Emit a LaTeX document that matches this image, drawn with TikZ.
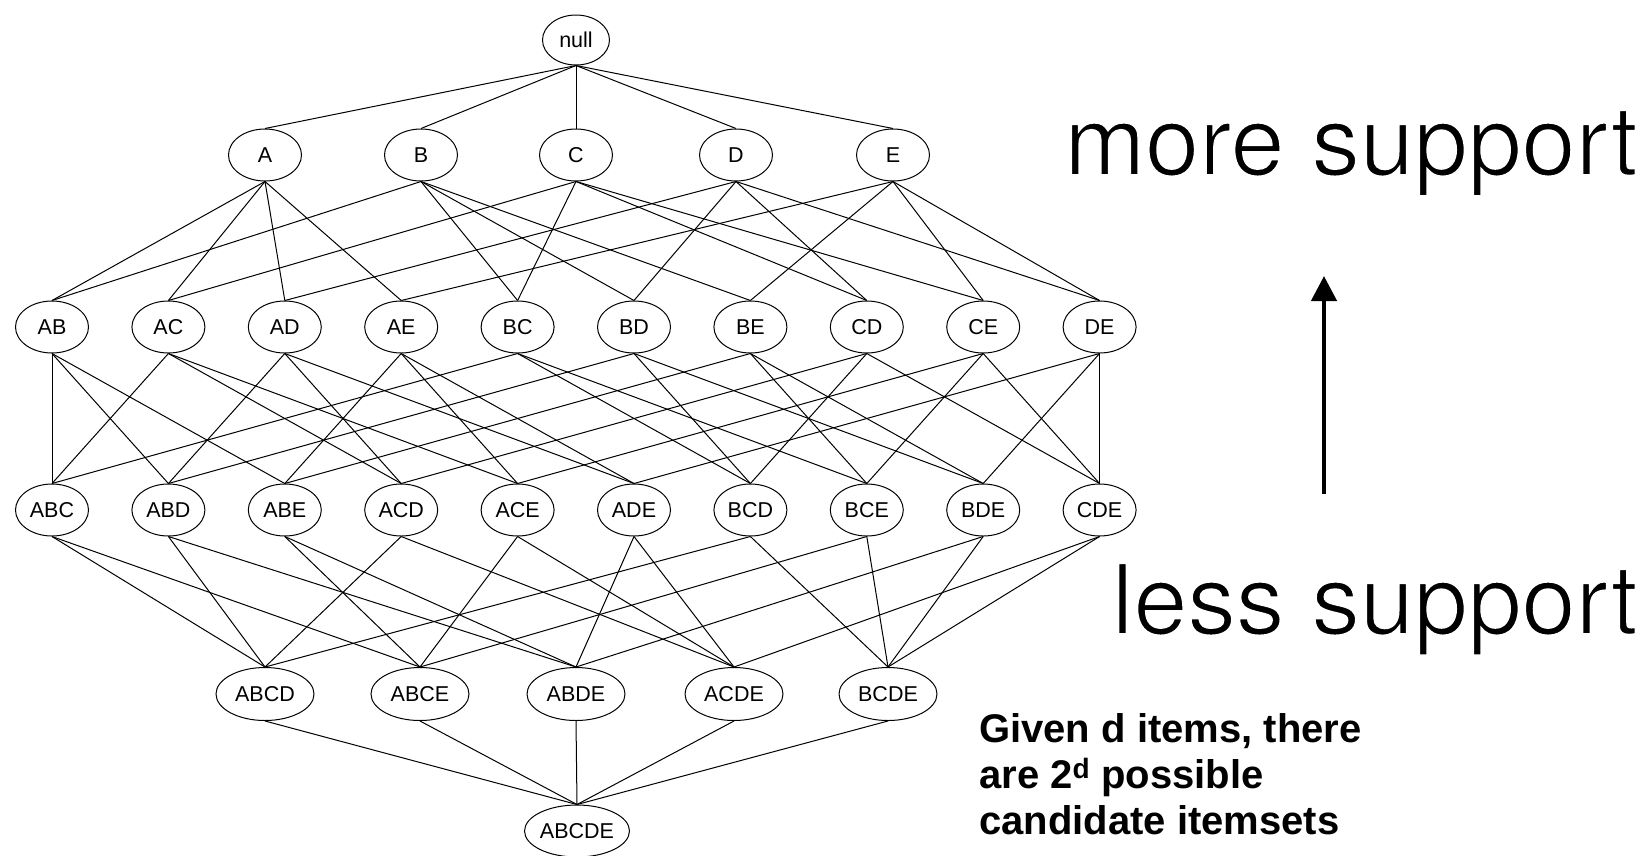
\documentclass[tikz,border=0pt]{standalone}
\usepackage{fontspec}
\setmainfont{Liberation Sans}
\newfontfamily\headfont{TeX Gyre Heros}
\usetikzlibrary{shapes.geometric,arrows.meta}
% lighter strokes for the large captions: glyphs are filled black and
% their outlines overstroked in white
\newcommand\lighttext[1]{%
  \special{pdf:literal direct q 1 1 1 RG 1.8 w 2 Tr}#1\special{pdf:literal direct Q}}
\tikzset{
  setnode/.style={ellipse, draw, line width=1pt, inner sep=0pt,
    minimum width=73, minimum height=52,
    font=\fontsize{21.5}{24}\selectfont},
  quadnode/.style={setnode, minimum width=98, minimum height=53},
  edge/.style={line width=1pt, black},
  bigtext/.style={inner sep=0pt, font=\headfont\fontsize{97}{110}\selectfont},
}
\begin{document}
\begin{tikzpicture}[x=1pt, y=-1pt]
\useasboundingbox (0,0) rectangle (1646,855);

% empty set
\node[setnode, minimum width=67, minimum height=50] (null) at (576,40) {null};

% single items
\foreach \n/\x in {A/265, B/421, C/576, D/736, E/893}
  \node[setnode] (\n) at (\x,155) {\n};

% pairs and triples share the same columns
\foreach \n/\m [count=\i from 0] in {AB/ABC, AC/ABD, AD/ABE, AE/ACD, BC/ACE,
                                     BD/ADE, BE/BCD, CD/BCE, CE/BDE, DE/CDE} {
  \node[setnode] (\n) at ({52+116.4*\i},327) {\n};
  \node[setnode] (\m) at ({52+116.4*\i},510) {\m};
}

% quadruples
\foreach \n/\x in {ABCD/265, ABCE/420, ABDE/576, ACDE/734, BCDE/888}
  \node[quadnode] (\n) at (\x,694) {\n};

% full set
\node[setnode, minimum width=105, minimum height=52] (ABCDE) at (577,831) {ABCDE};

% subset relations, drawn from each set down to its supersets
\foreach \c in {A,B,C,D,E}
  \draw[edge] (null.south) -- (\c.north);
\foreach \c/\ps in {AB/{A,B}, AC/{A,C}, AD/{A,D}, AE/{A,E}, BC/{B,C},
                    BD/{B,D}, BE/{B,E}, CD/{C,D}, CE/{C,E}, DE/{D,E},
                    ABC/{AB,AC,BC}, ABD/{AB,AD,BD}, ABE/{AB,AE,BE},
                    ACD/{AC,AD,CD}, ACE/{AC,AE,CE}, ADE/{AD,AE,DE},
                    BCD/{BC,BD,CD}, BCE/{BC,BE,CE}, BDE/{BD,BE,DE},
                    CDE/{CD,CE,DE},
                    ABCD/{ABC,ABD,ACD,BCD}, ABCE/{ABC,ABE,ACE,BCE},
                    ABDE/{ABD,ABE,ADE,BDE}, ACDE/{ACD,ACE,ADE,CDE},
                    BCDE/{BCD,BCE,BDE,CDE},
                    ABCDE/{ABCD,ABCE,ABDE,ACDE,BCDE}}
  \foreach \p in \ps
    \draw[edge] (\p.south) -- (\c.north);

% support direction
\node[bigtext, anchor=base east] (more) at (1638,175) {\lighttext{more support}};
\node[bigtext, anchor=base east] (less) at (1638,634) {\lighttext{less support}};
\coordinate (arrowfoot) at (1324,494);
\coordinate (arrowtip) at (1324,276);
\draw[line width=4.5pt, -{Triangle[width=25pt, length=25pt]}] (arrowfoot) -- (arrowtip);

% note (anchored at the baseline of its last line)
\node[anchor=base west, align=left, inner sep=0pt,
      font=\bfseries\fontsize{40}{46}\selectfont] (note) at (979,834)
  {Given d items, there\\ are 2\textsuperscript{d} possible\\ candidate itemsets};
\end{tikzpicture}
\end{document}
